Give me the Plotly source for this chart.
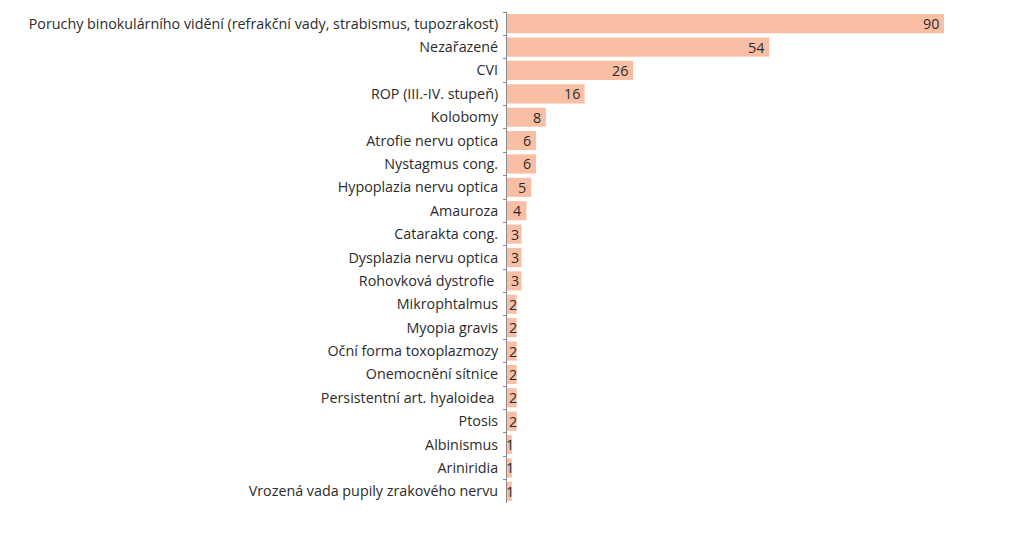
import plotly.graph_objects as go

categories = [
    "Poruchy binokulárního vidění (refrakční vady, strabismus, tupozrakost)",
    "Nezařazené",
    "CVI",
    "ROP (III.-IV. stupeň)",
    "Kolobomy",
    "Atrofie nervu optica",
    "Nystagmus cong.",
    "Hypoplazia nervu optica",
    "Amauroza",
    "Catarakta cong.",
    "Dysplazia nervu optica",
    "Rohovková dystrofie ",
    "Mikrophtalmus",
    "Myopia gravis",
    "Oční forma toxoplazmozy",
    "Onemocnění sítnice",
    "Persistentní art. hyaloidea ",
    "Ptosis",
    "Albinismus",
    "Ariniridia",
    "Vrozená vada pupily zrakového nervu",
]
values = [90, 54, 26, 16, 8, 6, 6, 5, 4, 3, 3, 3, 2, 2, 2, 2, 2, 2, 1, 1, 1]

bar_color = "#F9BFA5"
text_color = "#2b2b2b"
font_family = "Open Sans, Noto Sans, sans-serif"

fig = go.Figure()
fig.add_trace(go.Bar(
    y=categories, x=values, orientation="h",
    marker=dict(color=bar_color, line=dict(width=0)),
    hoverinfo="skip",
))

annotations = []
for cat, v in zip(categories, values):
    if v <= 1:
        shift = 4
    elif v == 2:
        shift = 2
    elif v == 3:
        shift = -1
    else:
        shift = -3
    annotations.append(dict(
        x=v, y=cat, xref="x", yref="y",
        text=str(v), showarrow=False,
        xanchor="right", yanchor="middle",
        xshift=shift, yshift=0,
        font=dict(size=14.3, color=text_color, family=font_family),
    ))

fig.update_layout(
    width=1024, height=549,
    margin=dict(l=507, r=80, t=12, b=46),
    paper_bgcolor="white", plot_bgcolor="white",
    showlegend=False,
    bargap=0.18,
    font=dict(family=font_family, size=14, color=text_color),
    annotations=annotations,
)
fig.update_xaxes(range=[0, 90], visible=False)
fig.update_yaxes(
    range=[len(categories) - 0.5, -0.5],
    autorange=False,
    showline=True, linecolor="#8a8a8a", linewidth=1,
    ticks="outside", tickson="boundaries", ticklen=3, tickcolor="#8a8a8a",
    ticklabelstandoff=5,
    showgrid=False, zeroline=False,
    tickfont=dict(size=14.3, color=text_color, family=font_family),
)

fig.write_html("out.html")
